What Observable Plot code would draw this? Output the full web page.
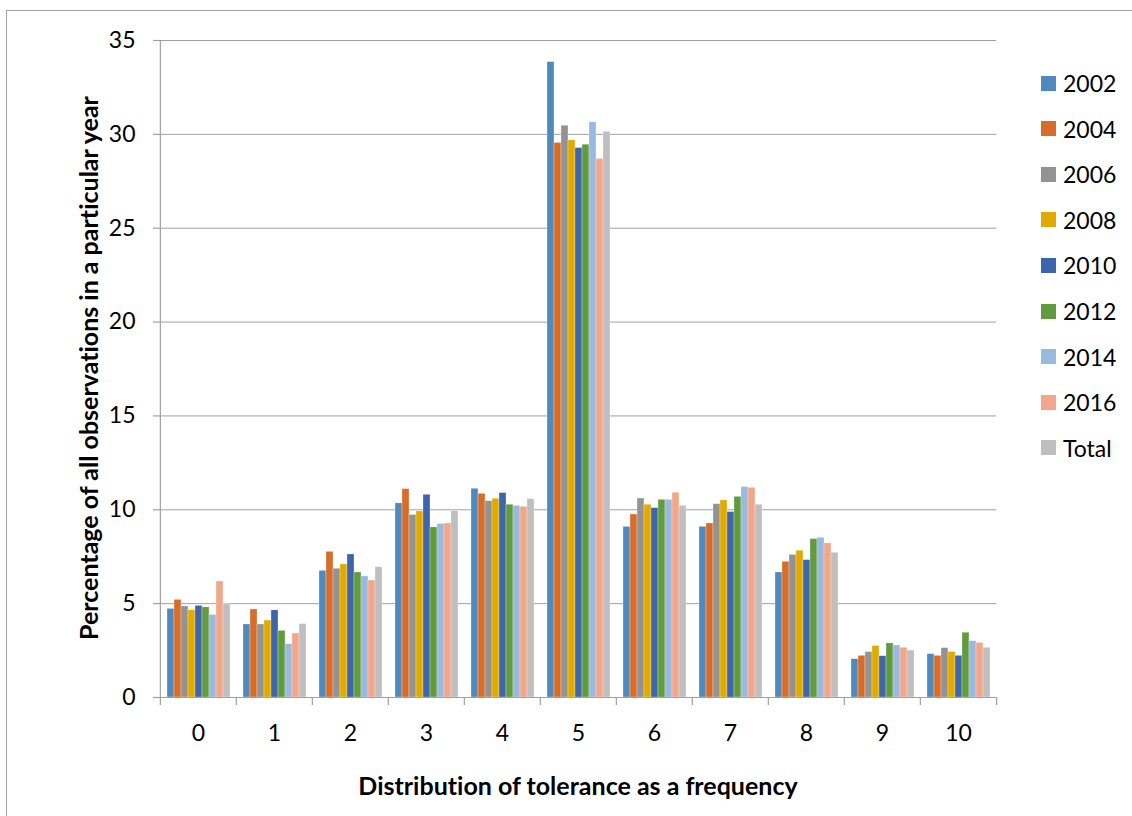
<!DOCTYPE html>
<html>
<head>
<meta charset="utf-8">
<script src="https://cdn.jsdelivr.net/npm/d3@7"></script>
<script src="https://cdn.jsdelivr.net/npm/@observablehq/plot@0.6"></script>
<style>
  html, body { margin: 0; padding: 0; background: #fff; }
  #wrap { position: relative; width: 1132px; height: 816px; overflow: hidden; font-family: Lato, "Open Sans", sans-serif; font-variant-ligatures: none; font-feature-settings: "liga" 0, "clig" 0; }
  #wrap svg text { font-variant-ligatures: none; }
  #border { position: absolute; left: 6px; top: 10px; width: 1300px; height: 1000px; border: 1.5px solid #a3a3a3; box-sizing: border-box; }
  #chart { position: absolute; left: 0; top: 0; }
  .axis-title { position: absolute; font-weight: bold; font-size: 25px; color: #000; white-space: nowrap; }
  #ytitle { left: 88px; top: 368px; transform: translate(-50%, -50%) rotate(-90deg); }
  #xtitle { left: 578px; top: 785px; transform: translate(-50%, -50%); }
  #legend { position: absolute; left: 1041px; top: 0; }
  .item { position: absolute; left: 0; display: flex; align-items: center; height: 28px; transform: translateY(-50%); font-size: 23px; color: #000; }
  .sw { width: 15px; height: 15px; margin-right: 7px; flex: none; }
</style>
</head>
<body>
<div id="wrap">
  <div id="border"></div>
  <div id="chart"></div>
  <div class="axis-title" id="ytitle">Percentage of all observations in a particular year</div>
  <div class="axis-title" id="xtitle">Distribution of tolerance as a frequency</div>
  <div id="legend"></div>
</div>
<script>
// Frequency categories on the x axis
const groups = [0, 1, 2, 3, 4, 5, 6, 7, 8, 9, 10];
// Survey years (plus the pooled total)
const series = ["2002", "2004", "2006", "2008", "2010", "2012", "2014", "2016", "Total"];
const colors = ["#4f8abf", "#d66d2b", "#939393", "#e0aa00", "#3d64ae", "#629a3f", "#98b9e0", "#f0a78b", "#bfbfbf"];
const yTicks = [0, 5, 10, 15, 20, 25, 30, 35];

// Percentage of observations per frequency category, one array per year
const v2002  = [4.72, 3.89, 6.75, 10.34, 11.12, 33.85, 9.09, 9.09, 6.66, 2.04, 2.31];
const v2004  = [5.20, 4.69, 7.76, 11.10, 10.85, 29.54, 9.75, 9.27, 7.23, 2.22, 2.22];
const v2006  = [4.85, 3.89, 6.86, 9.72, 10.46, 30.46, 10.60, 10.30, 7.60, 2.42, 2.63];
const v2008  = [4.65, 4.10, 7.09, 9.91, 10.59, 29.68, 10.27, 10.50, 7.82, 2.74, 2.42];
const v2010  = [4.88, 4.64, 7.62, 10.80, 10.89, 29.27, 10.09, 9.88, 7.32, 2.20, 2.22];
const v2012  = [4.80, 3.55, 6.66, 9.06, 10.27, 29.45, 10.53, 10.69, 8.44, 2.88, 3.45];
const v2014  = [4.40, 2.84, 6.45, 9.24, 10.21, 30.64, 10.53, 11.21, 8.51, 2.77, 3.00];
const v2016  = [6.18, 3.41, 6.23, 9.27, 10.16, 28.69, 10.91, 11.17, 8.21, 2.65, 2.91];
const vTotal = [4.99, 3.91, 6.94, 9.93, 10.57, 30.14, 10.21, 10.27, 7.71, 2.50, 2.65];

const valuesBySeries = [v2002, v2004, v2006, v2008, v2010, v2012, v2014, v2016, vTotal];
const data = [];
groups.forEach((g, gi) => {
  series.forEach((s, si) => data.push({group: g, series: s, value: valuesBySeries[si][gi]}));
});

const W = 1132, H = 816;
const mL = 158, mR = 135, mT = 40, mB = 119;
const half = (W - mL - mR) / groups.length / 2;
const gray = "#a0a0a0";

const plot = Plot.plot({
  width: W,
  height: H,
  marginLeft: mL,
  marginRight: mR,
  marginTop: mT,
  marginBottom: mB,
  style: {fontFamily: "Lato, 'Open Sans', sans-serif", fontSize: "23px", color: "#000", background: "transparent"},
  fx: {domain: groups, padding: 0, axis: null, label: null},
  x: {domain: series, paddingInner: 0, paddingOuter: 0.72, axis: null, label: null},
  y: {domain: [0, 35], axis: null, label: null},
  color: {domain: series, range: colors},
  marks: [
    Plot.gridY(yTicks, {stroke: gray, strokeOpacity: 1, strokeWidth: 1}),
    Plot.barY(data, {fx: "group", x: "series", y: "value", fill: "series", stroke: "#fff", strokeWidth: 0.4, strokeOpacity: 0.7}),
    Plot.ruleY([0], {stroke: gray, strokeWidth: 1.2}),
    Plot.ruleX([0], {fx: d => d, x: null, y1: 0, y2: 35, dx: -half, stroke: gray, strokeWidth: 1.2}),
    Plot.axisY({ticks: yTicks, tickSize: 7, tickPadding: 18, stroke: gray, strokeWidth: 1.2, fontSize: 23, label: null}),
    Plot.axisFx({anchor: "bottom", tickSize: 8, fill: "none", dx: -half, stroke: gray, strokeWidth: 1.2, label: null}),
    Plot.axisFx({anchor: "bottom", ticks: [10], tickSize: 8, fill: "none", dx: half, stroke: gray, strokeWidth: 1.2, label: null}),
    Plot.axisFx({anchor: "bottom", tickSize: 0, tickPadding: 27, fontSize: 23, label: null})
  ]
});
document.getElementById("chart").appendChild(plot);

// Legend: one swatch per series, colours taken from the plot's colour scale
const color = plot.scale("color");
const legend = document.getElementById("legend");
series.forEach((s, i) => {
  const item = document.createElement("div");
  item.className = "item";
  item.style.top = (83 + i * 45.6) + "px";
  const sw = document.createElement("span");
  sw.className = "sw";
  sw.style.background = color.range[color.domain.indexOf(s)];
  const label = document.createElement("span");
  label.textContent = s;
  item.appendChild(sw);
  item.appendChild(label);
  legend.appendChild(item);
});
</script>
</body>
</html>
